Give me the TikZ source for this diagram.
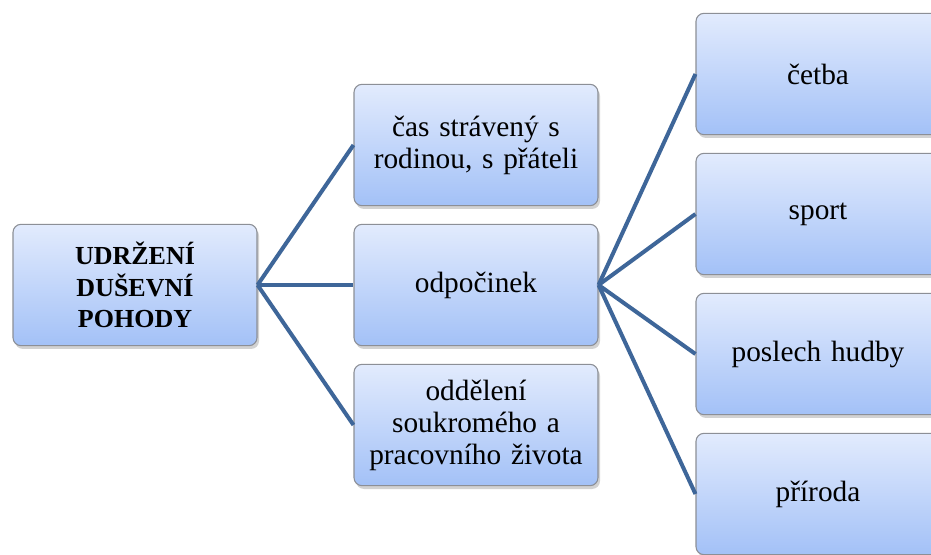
\documentclass[tikz,border=0pt]{standalone}
\usepackage{fontspec}
\setmainfont{Liberation Serif}
\usetikzlibrary{shadows}
\definecolor{boxtop}{HTML}{E2EBFD}
\definecolor{boxbottom}{HTML}{A3C1F7}
\definecolor{boxline}{HTML}{8C8F96}
\definecolor{linkblue}{HTML}{3E6699}
\tikzset{
  box/.style={draw=boxline, line width=0.8pt, rounded corners=6,
    top color=boxtop, bottom color=boxbottom,
    minimum width=183pt, minimum height=91pt, inner sep=0pt,
    align=center, text width=178pt,
    font=\fontsize{22}{24}\selectfont,
    drop shadow={opacity=0.35, shadow xshift=1.5pt, shadow yshift=-2.5pt}},
  link/.style={draw=linkblue, line width=3pt}
}
\begin{document}
\begin{tikzpicture}[x=0.75pt,y=-0.75pt]
  \clip (0,0) rectangle (931,555);
  \fill[white] (0,0) rectangle (931,555);
  % root
  \node[box, font=\fontsize{19.5}{23.5}\selectfont\bfseries] (root) at (135,285) {UDRŽENÍ\\DUŠEVNÍ\\POHODY};
  % second level
  \node[box] (cas) at (476,145) {čas strávený s\\rodinou, s přáteli};
  \node[box] (odp) at (476,285) {odpočinek};
  \node[box] (odd) at (476,425) {oddělení\\soukromého a\\pracovního života};
  % third level
  \node[box] (cet) at (818,74) {četba};
  \node[box] (spo) at (818,214) {sport};
  \node[box] (pos) at (818,354) {poslech hudby};
  \node[box] (pri) at (818,494) {příroda};
  % connectors
  \foreach \t in {cas,odp,odd}
    \draw[link] (root.east) -- (\t.west);
  \foreach \t in {cet,spo,pos,pri}
    \draw[link] (odp.east) -- (\t.west);
\end{tikzpicture}
\end{document}
